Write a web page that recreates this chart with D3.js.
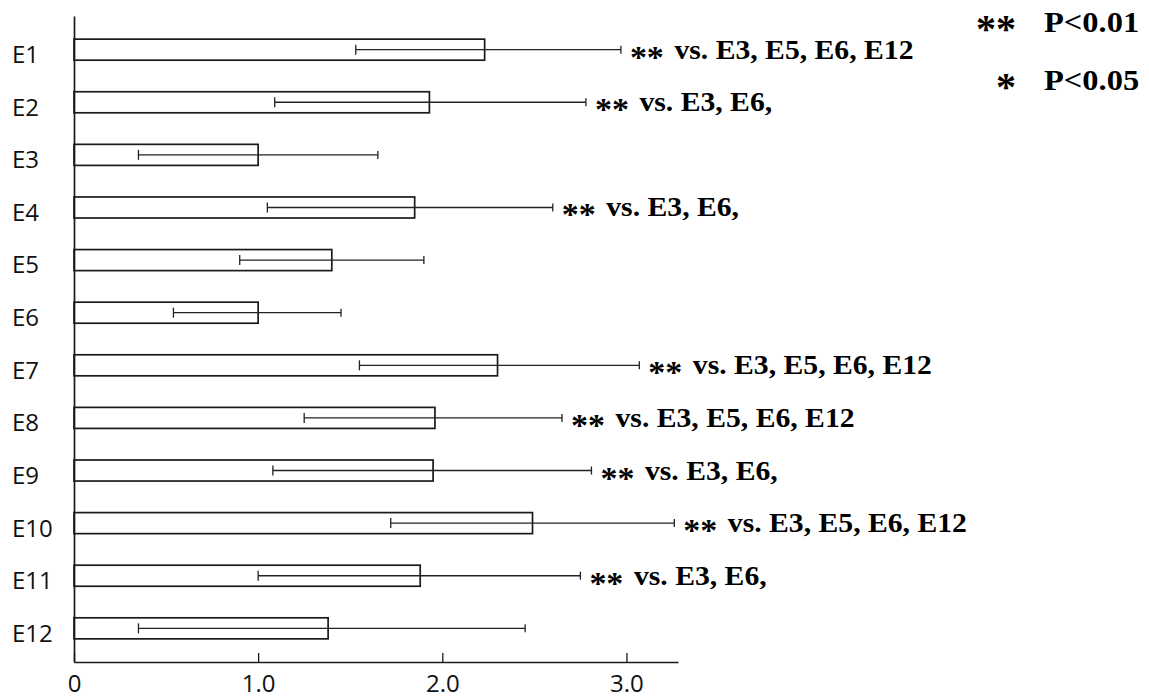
<!DOCTYPE html>
<html><head><meta charset="utf-8">
<script src="https://cdn.jsdelivr.net/npm/d3@7"></script>
<style>body{margin:0;background:#fff} svg{display:block}</style>
</head><body>
<svg id="c" width="1149" height="699"></svg>
<script>
const categories = ["E1","E2","E3","E4","E5","E6","E7","E8","E9","E10","E11","E12"];
const means  = [2.23, 1.93, 1.00, 1.85, 1.40, 1.00, 2.30, 1.96, 1.95, 2.49, 1.88, 1.38];
const lower  = [1.53, 1.09, 0.35, 1.05, 0.90, 0.54, 1.55, 1.25, 1.08, 1.72, 1.00, 0.35];
const upper  = [2.97, 2.78, 1.65, 2.60, 1.90, 1.45, 3.07, 2.65, 2.81, 3.26, 2.75, 2.45];
const sigMarks = ["**","**","","**","","","**","**","**","**","**",""];
const sigText  = ["vs. E3, E5, E6, E12","vs. E3, E6,","","vs. E3, E6,","","",
                  "vs. E3, E5, E6, E12","vs. E3, E5, E6, E12","vs. E3, E6,",
                  "vs. E3, E5, E6, E12","vs. E3, E6,",""];
const tickValues = [0, 1, 2, 3];
const tickLabels = ["0", "1.0", "2.0", "3.0"];
const legendMarks  = ["**", "*"];
const legendLabels = ["P<0.01", "P<0.05"];

const data = categories.map((c, i) => ({c, m: means[i], lo: lower[i], hi: upper[i], mark: sigMarks[i], txt: sigText[i]}));

const svg = d3.select("#c");
const x = d3.scaleLinear().domain([0, 3.28]).range([74, 678]);
const y = d3.scaleBand().domain(categories).range([16, 662]).paddingInner(0.6).paddingOuter(0.44);

const ink = "#1a1a1a";

// bars
svg.append("g").selectAll("rect").data(data).join("rect")
  .attr("x", x(0))
  .attr("y", d => y(d.c))
  .attr("width", d => x(d.m) - x(0))
  .attr("height", y.bandwidth())
  .attr("fill", "#fff")
  .attr("stroke", ink)
  .attr("stroke-width", 1.7);

// error bars
const eg = svg.append("g").attr("stroke", "#222").attr("stroke-width", 1.3);
data.forEach(d => {
  const cy = y(d.c) + y.bandwidth() / 2;
  eg.append("line").attr("x1", x(d.lo)).attr("x2", x(d.hi)).attr("y1", cy).attr("y2", cy);
  eg.append("line").attr("x1", x(d.lo)).attr("x2", x(d.lo)).attr("y1", cy - 5).attr("y2", cy + 5);
  eg.append("line").attr("x1", x(d.hi)).attr("x2", x(d.hi)).attr("y1", cy - 4).attr("y2", cy + 4);
});

// x axis
const xa = svg.append("g").attr("transform", "translate(0,662)")
  .call(d3.axisBottom(x).tickValues(tickValues).tickFormat((d, i) => tickLabels[i])
        .tickSizeInner(-9).tickSizeOuter(0).tickPadding(13));
xa.select(".domain").attr("stroke", ink).attr("stroke-width", 1.7);
xa.selectAll(".tick line").attr("stroke", ink).attr("stroke-width", 1.3);
xa.selectAll(".tick text").attr("font-family", "'Open Sans', sans-serif").attr("font-size", 24).attr("fill", "#111");

// y axis
const ya = svg.append("g").attr("transform", "translate(74,0)")
  .call(d3.axisLeft(y).tickSize(0).tickPadding(0));
ya.select(".domain").attr("stroke", ink).attr("stroke-width", 1.7);
ya.selectAll(".tick text")
  .attr("x", -62).attr("text-anchor", "start").attr("dy", "0.35em")
  .attr("y", 5)
  .attr("font-family", "'Open Sans', sans-serif").attr("font-size", 24).attr("fill", "#111");

// significance annotations
const ag = svg.append("g").attr("font-family", "'Liberation Serif', 'Times New Roman', serif")
  .attr("font-weight", "bold").attr("fill", "#000");
data.filter(d => d.mark).forEach(d => {
  const cy = y(d.c) + y.bandwidth() / 2;
  const t = ag.append("text")
    .attr("transform", `translate(${x(d.hi) + 9},${cy + 9}) scale(1.06,1)`)
    .attr("font-size", 28);
  t.append("tspan").attr("font-size", 32).attr("dy", 9).text(d.mark);
  t.append("tspan").attr("dy", -9).attr("dx", 10).text(d.txt);
});

// legend
const lg = svg.append("g").attr("font-family", "'Liberation Serif', 'Times New Roman', serif")
  .attr("font-weight", "bold").attr("fill", "#000");
const legendY = [32, 90];
legendMarks.forEach((m, i) => {
  lg.append("text").attr("x", 1016).attr("y", legendY[i] + 10)
    .attr("text-anchor", "end").attr("font-size", 40).text(m);
  lg.append("text").attr("transform", `translate(1044,${legendY[i]}) scale(1.12,1)`)
    .attr("font-size", 29).text(legendLabels[i]);
});
</script>
</body></html>
